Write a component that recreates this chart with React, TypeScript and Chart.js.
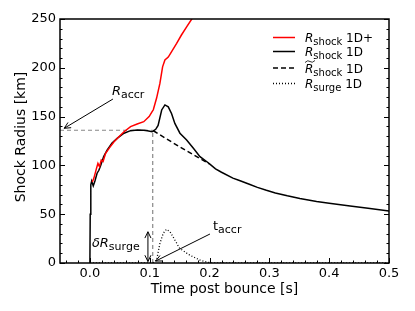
import React, { useEffect, useRef } from "react";
import { Chart, registerables } from "chart.js";
Chart.register(...registerables);

const FONT = "'DejaVu Sans', sans-serif";

// R_shock 1D+ (red)
const tShock1Dp = [0.004, 0.0067, 0.011, 0.0134, 0.016, 0.019, 0.022, 0.026, 0.032, 0.040, 0.0485, 0.057, 0.068, 0.079, 0.090, 0.099, 0.104, 0.106, 0.1115, 0.117, 0.1215, 0.1254, 0.131, 0.1366, 0.145, 0.153, 0.1617, 0.170, 0.176];
const rShock1Dp = [83, 87, 97, 102, 98.7, 105.5, 104, 112, 117.5, 124, 129.4, 134.5, 139.7, 142.4, 144.8, 150, 155, 157, 169, 184, 201, 208, 211, 216.5, 225, 233.6, 242, 249.7, 256];

// R_shock 1D (black solid)
const tShock1D = [0, 0.0005, 0.0015, 0.003, 0.0056, 0.0084, 0.012, 0.015, 0.018, 0.023, 0.029, 0.037, 0.046, 0.057, 0.068, 0.079, 0.09, 0.096, 0.104, 0.106, 0.110, 0.114, 0.120, 0.1254, 0.131, 0.1366, 0.142, 0.1505, 0.1617, 0.173, 0.184, 0.195, 0.2, 0.21, 0.22, 0.239, 0.25, 0.2676, 0.28, 0.295, 0.31, 0.33, 0.351, 0.379, 0.4, 0.435, 0.465, 0.5];
const rShock1D = [0, 50, 80, 84, 79, 84, 92, 95, 100, 109, 116, 123, 128, 133, 135.6, 136.3, 136, 135.6, 134.5, 135.5, 137, 141, 156.8, 162, 160, 153, 143, 133, 126, 117.5, 109, 104, 101.5, 96.5, 93, 87, 84.5, 80.5, 77.5, 74.5, 71.8, 68.8, 66, 63, 61.3, 58.4, 56, 53.3];

// R~_shock 1D (black dashed)
const tShockTilde = [0.106, 0.15, 0.2];
const rShockTilde = [135.5, 119, 101.5];

// R_surge 1D (dotted)
const tSurge = [0, 0.105, 0.1115, 0.117, 0.1226, 0.128, 0.134, 0.142, 0.15, 0.167, 0.184, 0.195, 0.205, 0.5];
const rSurge = [0, 0, 3, 20, 30.4, 34.5, 32, 23.6, 15, 8, 3, 1, 0, 0];

// reference values
const tAccr = 0.105;
const rAccr = 136;

const xTicks = [0.0, 0.1, 0.2, 0.3, 0.4, 0.5];
const yTicks = [0, 50, 100, 150, 200, 250];

const zip = (xs: number[], ys: number[]) => xs.map((x, i) => ({ x, y: ys[i] }));

function arrowHead(ctx: CanvasRenderingContext2D, fx: number, fy: number, tx: number, ty: number, len: number) {
  const a = Math.atan2(ty - fy, tx - fx);
  const w = 0.45;
  ctx.beginPath();
  ctx.moveTo(tx - len * Math.cos(a - w), ty - len * Math.sin(a - w));
  ctx.lineTo(tx, ty);
  ctx.lineTo(tx - len * Math.cos(a + w), ty - len * Math.sin(a + w));
  ctx.stroke();
}

function arrow(ctx: CanvasRenderingContext2D, x1: number, y1: number, x2: number, y2: number, both = false) {
  ctx.save();
  ctx.strokeStyle = "#000";
  ctx.lineWidth = 1;
  ctx.setLineDash([]);
  ctx.beginPath();
  ctx.moveTo(x1, y1);
  ctx.lineTo(x2, y2);
  ctx.stroke();
  arrowHead(ctx, x1, y1, x2, y2, 7);
  if (both) arrowHead(ctx, x2, y2, x1, y1, 7);
  ctx.restore();
}

function label(ctx: CanvasRenderingContext2D, x: number, y: number, main: string, mainItalic: boolean, sub: string, rest = "", size = 12) {
  ctx.save();
  ctx.fillStyle = "#000";
  ctx.textAlign = "left";
  ctx.textBaseline = "alphabetic";
  ctx.font = `${mainItalic ? "italic " : ""}${size}px ${FONT}`;
  ctx.fillText(main, x, y);
  let cx = x + ctx.measureText(main).width;
  ctx.font = `${Math.round(size * 0.83)}px ${FONT}`;
  ctx.fillText(sub, cx, y + 3);
  cx += ctx.measureText(sub).width;
  if (rest) {
    ctx.font = `${size}px ${FONT}`;
    ctx.fillText(rest, cx, y);
  }
  ctx.restore();
}

const decor = {
  id: "decor",
  afterDatasetsDraw(chart: any) {
    const { ctx, chartArea, scales } = chart;
    const { left, right, top, bottom } = chartArea;
    const xs = scales.x, ys = scales.y;
    ctx.save();
    ctx.strokeStyle = "#000";
    ctx.lineWidth = 1;
    ctx.setLineDash([]);
    // y ticks
    for (let v = 0; v <= 250; v += 10) {
      const py = Math.round(ys.getPixelForValue(v)) + 0.5;
      const L = v % 50 === 0 ? 5 : 2.5;
      ctx.beginPath();
      ctx.moveTo(left, py); ctx.lineTo(left + L, py);
      ctx.moveTo(right, py); ctx.lineTo(right - L, py);
      ctx.stroke();
    }
    // x ticks
    for (let i = -2; i <= 25; i++) {
      const v = i * 0.02;
      const px = Math.round(xs.getPixelForValue(v)) + 0.5;
      const L = i % 5 === 0 ? 5 : 2.5;
      ctx.beginPath();
      ctx.moveTo(px, bottom); ctx.lineTo(px, bottom - L);
      ctx.stroke();
    }
    // frame
    ctx.lineWidth = 1.5;
    ctx.strokeRect(left, top, right - left, bottom - top);
    ctx.restore();

    // annotations
    arrow(ctx, xs.getPixelForValue(0.0385), ys.getPixelForValue(168), xs.getPixelForValue(-0.043), ys.getPixelForValue(138));
    label(ctx, xs.getPixelForValue(0.0368), ys.getPixelForValue(172), "R", true, "accr", "", 13);
    arrow(ctx, xs.getPixelForValue(0.097), ys.getPixelForValue(1.5), xs.getPixelForValue(0.097), ys.getPixelForValue(32), true);
    label(ctx, xs.getPixelForValue(0.0033), ys.getPixelForValue(16.4), "δR", true, "surge", "", 13);
    arrow(ctx, xs.getPixelForValue(0.2007), ys.getPixelForValue(29.7), xs.getPixelForValue(0.110), ys.getPixelForValue(2));
    label(ctx, xs.getPixelForValue(0.2057), ys.getPixelForValue(34), "t", false, "accr", "", 13);

    // legend
    const rows = [
      { color: "#ff0000", dash: [] as number[], sub: "shock", rest: " 1D+", tilde: false, y: 37.5 },
      { color: "#000", dash: [] as number[], sub: "shock", rest: " 1D", tilde: false, y: 51.5 },
      { color: "#000", dash: [5, 3], sub: "shock", rest: " 1D", tilde: true, y: 68 },
      { color: "#000", dash: [1, 2], sub: "surge", rest: " 1D", tilde: false, y: 83.5 },
    ];
    for (const r of rows) {
      ctx.save();
      ctx.strokeStyle = r.color;
      ctx.lineWidth = 1.5;
      ctx.setLineDash(r.dash);
      ctx.beginPath();
      ctx.moveTo(273, r.y); ctx.lineTo(295, r.y);
      ctx.stroke();
      ctx.restore();
      label(ctx, 305, r.y + 4.5, "R", true, r.sub, r.rest);
      if (r.tilde) {
        ctx.save();
        ctx.strokeStyle = "#000";
        ctx.lineWidth = 0.8;
        ctx.beginPath();
        const ty = r.y - 6.5;
        ctx.moveTo(305, ty + 1);
        ctx.quadraticCurveTo(308, ty - 2, 310, ty);
        ctx.quadraticCurveTo(312, ty + 2, 315, ty - 1);
        ctx.stroke();
        ctx.restore();
      }
    }

    // axis titles
    ctx.save();
    ctx.fillStyle = "#000";
    ctx.font = `14px ${FONT}`;
    ctx.textAlign = "center";
    ctx.textBaseline = "middle";
    ctx.fillText("Time post bounce [s]", (left + right) / 2, 289);
    ctx.translate(21, 137);
    ctx.rotate(-Math.PI / 2);
    ctx.fillText("Shock Radius [km]", 0, 0);
    ctx.restore();
  },
};

export default function App() {
  const ref = useRef<HTMLCanvasElement>(null);
  useEffect(() => {
    const line = (data: any, color: string, dash: number[], width: number, order: number) => ({
      data, borderColor: color, borderDash: dash, borderWidth: width, pointRadius: 0,
      tension: 0, fill: false, order, showLine: true,
    });
    const chart = new Chart(ref.current!, {
      type: "line",
      data: {
        datasets: [
          line(zip([-0.05, tAccr], [rAccr, rAccr]), "#888888", [4, 3], 1.2, 5),
          line(zip([tAccr, tAccr], [0, rAccr]), "#888888", [4, 3], 1.2, 5),
          line(zip(tShock1D, rShock1D), "#000000", [], 1.5, 4),
          line(zip(tShock1Dp, rShock1Dp), "#ff0000", [], 1.5, 3),
          line(zip(tShockTilde, rShockTilde), "#000000", [5, 3], 1.5, 2),
          line(zip(tSurge, rSurge), "#000000", [1, 2], 1.3, 1),
        ],
      },
      options: {
        responsive: false,
        animation: false,
        devicePixelRatio: 1,
        parsing: false as any,
        layout: { padding: { left: 0, top: 19, right: 26, bottom: 0 } },
        plugins: { legend: { display: false }, tooltip: { enabled: false }, title: { display: false } },
        scales: {
          x: {
            type: "linear", min: -0.05, max: 0.5,
            afterBuildTicks: (s: any) => { s.ticks = xTicks.map((v) => ({ value: v })); },
            afterFit: (s: any) => { s.height = 48; },
            ticks: { callback: (v: any) => Number(v).toFixed(1), font: { size: 13, family: FONT }, color: "#000", padding: 3, maxRotation: 0, autoSkip: false },
            grid: { display: false, drawTicks: false },
            border: { display: false },
          },
          y: {
            type: "linear", min: 0, max: 250,
            afterBuildTicks: (s: any) => { s.ticks = yTicks.map((v) => ({ value: v })); },
            afterFit: (s: any) => { s.width = 60; },
            ticks: { callback: (v: any) => String(v), font: { size: 13, family: FONT }, color: "#000", padding: 4, autoSkip: false },
            grid: { display: false, drawTicks: false },
            border: { display: false },
          },
        },
      },
      plugins: [decor],
    } as any);
    return () => chart.destroy();
  }, []);
  return (
    <div style={{ position: "fixed", left: 0, top: 0, width: 415, height: 311, background: "#fff" }}>
      <canvas ref={ref} width={415} height={311} style={{ display: "block", width: 415, height: 311 }} />
    </div>
  );
}
